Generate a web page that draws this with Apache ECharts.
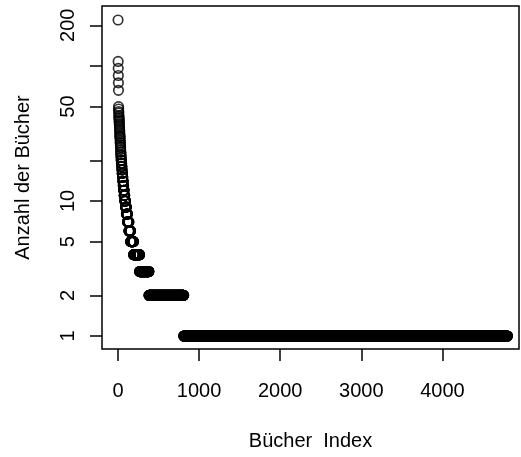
<!DOCTYPE html>
<html lang="de">
<head>
    <meta charset="UTF-8">
    <title>Bücher Index</title>
    <script src="https://cdn.jsdelivr.net/npm/echarts@6/dist/echarts.min.js"></script>
    <style>
        body { margin: 0; background: #ffffff; }
        #main { width: 521px; height: 457px; }
    </style>
</head>
<body>
<div id="main"></div>
<script>
    // einzelne Werte der meistgenannten Bücher (Rang 1, 2, ...)
    var headValues = [219, 108, 96, 85, 75, 66, 50, 48, 46, 45, 43, 42, 41, 40, 39, 38, 37, 36, 35, 34,
        33, 32, 31, 30, 30, 29, 28, 27, 27, 26, 25, 25, 24, 23, 23, 22, 22, 21, 21, 20, 20, 20];
    // danach: Wert und wie viele Bücher diesen Wert haben
    var runValues = [19, 18, 17, 16, 15, 14, 13, 12, 11, 10, 9, 8, 7, 6, 5, 4, 3, 2, 1];
    var runCounts = [3, 3, 3, 4, 4, 5, 5, 6, 8, 9, 11, 13, 18, 21, 37, 74, 115, 429, 3990];

    var xTicks = [0, 1000, 2000, 3000, 4000];
    var yTicks = [1, 2, 5, 10, 20, 50, 100, 200];
    var yLabels = [1, 2, 5, 10, 50, 200];

    // Punkte aufbauen: Index 1..N
    var points = [];
    var idx = 1;
    headValues.forEach(function (v) {
        points.push([idx++, v]);
    });
    runValues.forEach(function (v, i) {
        for (var k = 0; k < runCounts[i]; k++) {
            points.push([idx++, v]);
        }
    });

    var font = '"Liberation Sans", Arial, Helvetica, sans-serif';
    var chart = echarts.init(document.getElementById('main'));

    var option = {
        animation: false,
        backgroundColor: '#ffffff',
        grid: {
            left: 102,
            right: 2,
            top: 6,
            bottom: 108,
            show: true,
            borderColor: '#000',
            borderWidth: 1.5,
            backgroundColor: 'transparent'
        },
        xAxis: {
            type: 'value',
            min: -197,
            max: 4943,
            name: 'Bücher  Index',
            nameLocation: 'middle',
            nameGap: 82,
            nameMoveOverlap: false,
            nameTextStyle: { color: '#000', fontSize: 20, fontFamily: font },
            axisLine: { show: false, onZero: false },
            splitLine: { show: false },
            axisTick: {
                show: true,
                length: 12,
                customValues: xTicks,
                lineStyle: { color: '#000', width: 1.5 }
            },
            axisLabel: {
                customValues: xTicks,
                margin: 32,
                color: '#000',
                fontSize: 20,
                fontFamily: font,
                formatter: function (v) { return String(v); }
            }
        },
        yAxis: {
            type: 'log',
            logBase: 10,
            min: 0.801,
            max: 278,
            name: 'Anzahl der Bücher',
            nameLocation: 'middle',
            nameGap: 69,
            nameRotate: 90,
            nameMoveOverlap: false,
            nameTextStyle: { color: '#000', fontSize: 20, fontFamily: font },
            axisLine: { show: false, onZero: false },
            splitLine: { show: false },
            axisTick: {
                show: true,
                length: 12,
                customValues: yTicks,
                lineStyle: { color: '#000', width: 1.5 }
            },
            axisLabel: {
                customValues: yLabels,
                rotate: 90,
                margin: 24,
                color: '#000',
                fontSize: 20,
                fontFamily: font,
                formatter: function (v) { return String(v); }
            }
        },
        series: [{
            type: 'scatter',
            data: points,
            symbol: 'circle',
            symbolSize: 9.5,
            progressive: 0,
            silent: true,
            itemStyle: {
                color: 'transparent',
                borderColor: '#000',
                borderWidth: 1.7
            }
        }]
    };

    chart.setOption(option);
</script>
</body>
</html>
